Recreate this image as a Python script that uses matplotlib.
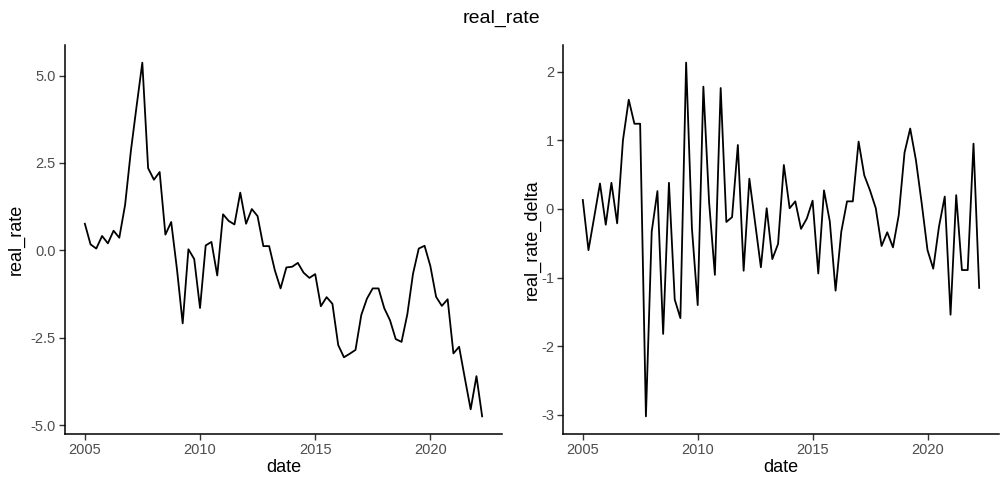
import matplotlib.pyplot as plt
import pandas as pd

plt.rcParams['font.family'] = ['Liberation Sans', 'DejaVu Sans']
plt.rcParams['axes.unicode_minus'] = False

# quarterly series, 2005Q1 .. 2022Q2
dates = pd.date_range('2005-01-01', periods=70, freq='QS')

real_rate = [0.76, 0.17, 0.05, 0.41, 0.20, 0.56, 0.36, 1.30, 2.85, 4.12,
             5.37, 2.35, 2.02, 2.24, 0.45, 0.81, -0.55, -2.09, 0.03, -0.25,
             -1.65, 0.14, 0.24, -0.72, 1.03, 0.84, 0.74, 1.65, 0.76, 1.18,
             0.98, 0.12, 0.12, -0.57, -1.09, -0.49, -0.47, -0.36, -0.64, -0.79,
             -0.68, -1.60, -1.34, -1.53, -2.71, -3.06, -2.96, -2.85, -1.85, -1.38,
             -1.09, -1.09, -1.66, -2.00, -2.54, -2.62, -1.83, -0.67, 0.05, 0.13,
             -0.45, -1.33, -1.59, -1.40, -2.95, -2.76, -3.66, -4.55, -3.60, -4.75]

real_rate_delta = [0.13, -0.60, -0.12, 0.37, -0.23, 0.38, -0.21, 1.00, 1.59, 1.24,
                   1.24, -3.02, -0.33, 0.26, -1.82, 0.38, -1.32, -1.59, 2.13, -0.28,
                   -1.40, 1.78, 0.10, -0.96, 1.76, -0.19, -0.12, 0.93, -0.90, 0.44,
                   -0.20, -0.85, 0.01, -0.73, -0.51, 0.64, 0.01, 0.11, -0.29, -0.14,
                   0.12, -0.94, 0.27, -0.18, -1.19, -0.33, 0.11, 0.11, 0.98, 0.49,
                   0.27, 0.01, -0.54, -0.34, -0.56, -0.09, 0.82, 1.17, 0.71, 0.08,
                   -0.60, -0.87, -0.26, 0.18, -1.54, 0.20, -0.89, -0.89, 0.95, -1.15]

year_ticks = pd.to_datetime(['2005-01-01', '2010-01-01', '2015-01-01', '2020-01-01'])
year_labels = ['2005', '2010', '2015', '2020']

fig = plt.figure(figsize=(10.03, 4.78), dpi=100)
ax1 = fig.add_axes([0.0648, 0.092, 0.4357, 0.814])
ax2 = fig.add_axes([0.5613, 0.092, 0.4347, 0.814])


def style(ax, ylabel, yticks, ylabels, ypad):
    for side in ['top', 'right']:
        ax.spines[side].set_visible(False)
    for side in ['left', 'bottom']:
        ax.spines[side].set_linewidth(1.1)
        ax.spines[side].set_color('black')
    ax.set_xticks(year_ticks)
    ax.set_xticklabels(year_labels)
    ax.set_yticks(yticks)
    ax.set_yticklabels(ylabels)
    ax.tick_params(length=4, width=1.0, color='#333333', labelcolor='#4D4D4D',
                   labelsize=10.5, pad=2.5)
    ax.set_xlabel('date', fontsize=13, labelpad=1.5)
    ax.set_ylabel(ylabel, fontsize=13, labelpad=ypad)
    ax.margins(x=0.05, y=0.05)


ax1.plot(dates, real_rate, color='black', lw=1.3)
style(ax1, 'real_rate', [-5.0, -2.5, 0.0, 2.5, 5.0],
      ['-5.0', '-2.5', '0.0', '2.5', '5.0'], 4)

ax2.plot(dates, real_rate_delta, color='black', lw=1.3)
style(ax2, 'real_rate_delta', [-3, -2, -1, 0, 1, 2],
      ['-3', '-2', '-1', '0', '1', '2'], 0.5)

fig.text(0.5, 0.962, 'real_rate', ha='center', va='center', fontsize=14)

fig.savefig('out.png', dpi=100)
